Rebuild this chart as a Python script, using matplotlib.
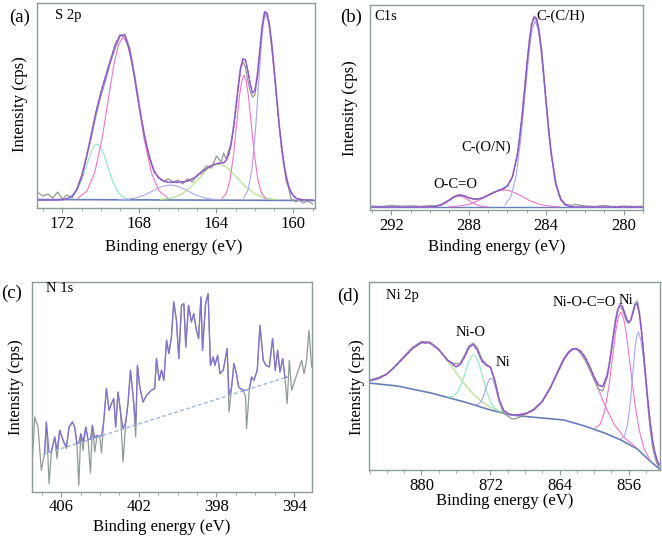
import matplotlib
matplotlib.use('Agg')
import matplotlib.pyplot as plt
from matplotlib.ticker import MultipleLocator

plt.rcParams['font.family'] = ['Liberation Serif', 'DejaVu Serif']

# ---------------- (a) S 2p ----------------
s2p_e = [173.25, 173.0, 172.75, 172.5, 172.25, 172.0, 171.75, 171.5, 171.25, 171.0,
         170.75, 170.5, 170.25, 170.0, 169.75, 169.5, 169.25, 169.0, 168.75, 168.5,
         168.25, 168.0, 167.75, 167.5, 167.25, 167.0, 166.75, 166.5, 166.25, 166.0,
         165.75, 165.5, 165.25, 165.0, 164.75, 164.5, 164.25, 164.0, 163.75,
         163.625, 163.5, 163.375, 163.25, 163.125, 163.0, 162.875, 162.75, 162.625, 162.5,
         162.375, 162.25, 162.125, 162.0, 161.875, 161.75, 161.625, 161.5, 161.375, 161.25,
         161.125, 161.0, 160.875, 160.75, 160.625, 160.5, 160.375, 160.25, 160.125, 160.0,
         159.875, 159.75, 159.5, 159.25, 159.0]
s2p_fit = [8, 8, 8, 8, 8.1, 8.3, 9.2, 11.9, 18.4, 31.1,
           50.3, 73.6, 96.4, 115.5, 132, 148, 163.5, 173, 171.9, 156.5,
           131, 101, 73.2, 51.6, 37.5, 30.1, 26.9, 25.8, 25.7, 25.8,
           26.1, 27.1, 29.1, 32.2, 35.8, 39.6, 42.8, 44.3, 45,
           45.3, 47.4, 52.7, 62.3, 77.7, 97.9, 120.2, 138.9, 149.1, 148.3,
           137.9, 124.2, 115.1, 117.4, 132.7, 156.7, 181.5, 195.9, 194.9, 183.4,
           163.6, 138.5, 111.3, 85, 62.6, 44, 30.8, 21.6, 15.6, 12,
           10, 8.9, 8.2, 8, 8]
s2p_raw = [15, 12, 14, 10, 16, 9, 13, 10, 19, 33,
           52, 70, 93, 112, 128, 146, 160, 172, 174, 160,
           133, 100, 72, 54, 36, 31, 27, 29, 26, 28,
           24, 29, 26, 33, 37, 42, 40, 52, 46,
           55, 49, 57, 64, 80, 99, 118, 140, 146, 141,
           128, 117, 111, 113, 130, 155, 180, 196, 195, 181,
           160, 136, 110, 84, 61, 45, 27, 20, 9, 8,
           6, 9, 5, 7, 4]
s2p_bg_e = [173.3, 158.9]
s2p_bg = [8.5, 7.5]
s2p_c1_e = [171.85, 171.52, 171.25, 170.97, 170.75, 170.53, 170.37, 170.2, 170.04, 169.87, 169.65, 169.43, 169.16, 168.88, 168.55]
s2p_c1 = [8.6, 11.1, 17.2, 29, 42, 54.8, 61.5, 64, 61.5, 54.8, 42, 29, 17.2, 11.1, 8.6]
s2p_c2_e = [171.19, 170.72, 170.33, 169.94, 169.63, 169.32, 169.08, 168.85, 168.62, 168.38, 168.07, 167.76, 167.37, 166.98, 166.51]
s2p_c2 = [9.8, 17.1, 34.8, 69.2, 106.9, 144.2, 163.8, 171, 163.8, 144.2, 106.9, 69.2, 34.8, 17.1, 9.8]
s2p_c3_e = [169.1, 168.56, 168.11, 167.66, 167.3, 166.94, 166.67, 166.4, 166.13, 165.86, 165.5, 165.14, 164.69, 164.24, 163.7]
s2p_c3 = [8.2, 8.8, 10.5, 13.6, 17.1, 20.5, 22.3, 23, 22.3, 20.5, 17.1, 13.6, 10.5, 8.8, 8.2]
s2p_c4_e = [166.9, 166.3, 165.8, 165.3, 164.9, 164.5, 164.2, 163.9, 163.6, 163.3, 162.9, 162.5, 162.0, 161.5, 160.9]
s2p_c4 = [8.4, 10, 13.9, 21.5, 29.8, 38.1, 42.4, 44, 42.4, 38.1, 29.8, 21.5, 13.9, 10, 8.4]
s2p_c5_e = [163.71, 163.48, 163.29, 163.1, 162.95, 162.8, 162.68, 162.57, 162.46, 162.34, 162.19, 162.04, 161.85, 161.66, 161.43]
s2p_c5 = [9.4, 15, 28.6, 54.9, 83.8, 112.4, 127.5, 133, 127.5, 112.4, 83.8, 54.9, 28.6, 15, 9.4]
s2p_c6_e = [162.58, 162.35, 162.16, 161.97, 161.82, 161.67, 161.55, 161.44, 161.28, 161.13, 160.92, 160.71, 160.45, 160.19, 159.88]
s2p_c6 = [10.1, 18.4, 38.6, 77.8, 120.8, 163.4, 185.8, 194, 185.8, 163.4, 120.8, 77.8, 38.6, 18.4, 10.1]

# ---------------- (b) C 1s ----------------
c1s_e = [293, 292.5, 292, 291.5, 291, 290.5, 290,
         289.75, 289.5, 289.25, 289, 288.75, 288.5, 288.25, 288, 287.75, 287.5,
         287.25, 287, 286.75, 286.5, 286.25, 286, 285.75, 285.5,
         285.375, 285.25, 285.125, 285, 284.875, 284.75, 284.625, 284.5, 284.375, 284.25,
         284.125, 284, 283.875, 283.75,
         283.5, 283.25, 283, 282.75, 282.5,
         282, 281.5, 281, 280.5, 280, 279.5, 279]
c1s_fit = [3, 3, 3, 3, 3, 3, 3.1,
           3.5, 4.5, 6.7, 9.9, 13.1, 14.9, 14.2, 12.3, 10.9, 10.9,
           12.4, 14.7, 17.1, 19.2, 20.9, 24, 32.7, 53.9,
           71.6, 93.3, 118.5, 144.5, 167.7, 185.6, 192.5, 191, 179.3, 160.9,
           135, 107.1, 81, 57.8,
           25.8, 10.5, 5, 3.4, 3,
           3, 3, 3, 3, 3, 3, 3]
c1s_raw = [4, 3.5, 4.5, 3.8, 4.2, 3.6, 4.4,
           4.2, 5, 7.5, 10.5, 13.5, 15.5, 14.5, 12, 11, 11.5,
           12, 15, 17.5, 19, 21.5, 24.5, 33, 54,
           72, 93, 118, 144, 168, 186, 194, 192, 180, 161,
           135, 107, 81, 58,
           26, 11, 6, 4.5, 5.5,
           4, 3.5, 4.5, 3.2, 4, 3.5, 3.8]
c1s_bg_e = [293.1, 279.0]
c1s_bg = [3, 3]
c1s_c1_e = [290.0, 289.7, 289.45, 289.2, 289.0, 288.8, 288.65, 288.5, 288.35, 288.2, 288.0, 287.8, 287.55, 287.3, 287.0]
c1s_c1 = [3.1, 3.6, 4.8, 7.1, 9.7, 12.2, 13.5, 14, 13.5, 12.2, 9.7, 7.1, 4.8, 3.6, 3.1]
c1s_c2_e = [289.02, 288.45, 287.97, 287.5, 287.12, 286.74, 286.46, 286.17, 285.89, 285.6, 285.22, 284.84, 284.37, 283.89, 283.32]
c1s_c2 = [3.2, 4.0, 5.8, 9.4, 13.3, 17.2, 19.3, 20, 19.3, 17.2, 13.3, 9.4, 5.8, 4.0, 3.2]
c1s_c3_e = [286.13, 285.82, 285.56, 285.3, 285.09, 284.88, 284.73, 284.57, 284.41, 284.26, 284.05, 283.84, 283.58, 283.32, 283.01]
c1s_c3 = [5.1, 13.4, 33.6, 72.8, 115.8, 158.4, 180.8, 189, 180.8, 158.4, 115.8, 72.8, 33.6, 13.4, 5.1]

# ---------------- (c) N 1s ----------------
n1s_e = [407.53, 407.36, 407.19, 407.02, 406.85, 406.76, 406.62, 406.50, 406.33, 406.21,
         406.07, 405.90, 405.73, 405.59, 405.42, 405.30, 405.18, 405.09, 404.99, 404.87,
         404.73, 404.61, 404.49, 404.39, 404.27, 404.15, 404.01, 403.92, 403.80, 403.67,
         403.53, 403.41, 403.29, 403.19, 403.07, 402.95, 402.81, 402.67, 402.55, 402.43,
         402.29, 402.16, 402.07, 401.95, 401.78, 401.60, 401.35, 401.18, 401.09, 400.95,
         400.83, 400.71, 400.57, 400.45, 400.32, 400.20, 400.06, 399.94, 399.80, 399.68,
         399.58, 399.44, 399.29, 399.17, 399.03, 398.92, 398.80, 398.72, 398.56, 398.43,
         398.31, 398.17, 398.08, 397.94, 397.82, 397.65, 397.45, 397.35, 397.22, 397.10,
         396.97, 396.86, 396.76, 396.62, 396.50, 396.45, 396.31, 396.19, 396.07, 395.90,
         395.76, 395.59, 395.45, 395.28, 395.11, 394.97, 394.85, 394.73, 394.59, 394.47,
         394.36, 394.25, 394.13, 393.96, 393.79, 393.61, 393.49, 393.36, 393.24, 393.10]
n1s_raw = [15.0, 75.0, 65.0, 21.7, 38.4, 70.0, 8.4, 40.0, 55.0, 33.4,
           61.7, 51.7, 43.4, 65.0, 70.0, 65.0, 45.0, 6.7, 58.4, 41.7,
           65.0, 51.7, 19.0, 66.7, 40.0, 56.7, 55.0, 39.0, 71.7, 103.4,
           81.7, 88.4, 93.4, 65.0, 100.0, 81.7, 30.0, 70.0, 90.0, 121.7,
           95.0, 55.0, 126.7, 105.0, 90.0, 96.7, 101.7, 103.4, 133.4, 111.7,
           121.7, 111.7, 151.7, 138.4, 155.0, 190.0, 171.7, 133.4, 186.7, 188.4,
           145.0, 186.7, 170.0, 178.4, 161.7, 153.4, 195.0, 141.7, 188.4, 198.4,
           126.7, 135.0, 126.7, 136.7, 118.4, 121.7, 143.4, 80.0, 105.0, 128.4,
           118.4, 105.0, 103.4, 101.7, 95.0, 63.4, 101.7, 115.0, 111.7, 121.7,
           166.7, 131.7, 126.7, 125.0, 153.4, 121.7, 141.7, 120.0, 133.4, 113.4,
           88.4, 131.7, 101.7, 111.7, 121.7, 131.7, 118.4, 131.7, 161.7, 125.0]
# fitted envelope, starts at the 5th energy point
n1s_fit = [38.4, 70.0, 39.6, 40.3, 55.0, 42.1, 61.7, 51.7, 45.1, 65.0,
           70.0, 65.0, 48.5, 49.0, 58.4, 50.4, 65.0, 52.0, 52.7, 66.7,
           54.1, 56.7, 55.7, 56.2, 71.7, 103.4, 81.7, 88.4, 93.4, 65.0,
           100.0, 81.7, 63.0, 70.0, 90.0, 121.7, 95.0, 67.0, 126.7, 105.0,
           90.0, 96.7, 101.7, 103.4, 133.4, 111.7, 121.7, 111.7, 151.7, 138.4,
           155.0, 190.0, 171.7, 133.4, 186.7, 188.4, 145.0, 186.7, 170.0, 178.4,
           161.7, 153.4, 195.0, 141.7, 188.4, 198.4, 126.7, 135.0, 126.7, 136.7,
           118.4, 121.7, 143.4, 96.6, 105.0, 128.4, 118.4, 105.0, 103.4, 101.7,
           101.8, 102.1, 103.0, 115.0, 111.7, 121.7, 166.7, 131.7, 126.7, 125.0,
           153.4, 121.7, 141.7, 120.0, 133.4, 114.3, 115.0]
n1s_bg_e = [406.93, 394.36]
n1s_bg = [37.7, 115.0]

# ---------------- (d) Ni 2p ----------------
ni_e = [886, 885, 884, 883, 882, 881, 880, 879, 878, 877, 876,
        875.5, 875, 874.5, 874, 873.5, 873, 872.5, 872, 871.5, 871, 870.5, 870, 869.5, 869, 868.5, 868,
        867, 866, 865, 864,
        863.5, 863, 862.5, 862, 861.5, 861, 860.5, 860, 859.5, 859, 858.5,
        858.25, 858, 857.75, 857.5, 857.25, 857, 856.75, 856.5, 856.25, 856, 855.75, 855.5,
        855.25, 855, 854.75, 854.5, 854.25, 854, 853.75, 853.5, 853.25, 853, 852.75, 852.5]
ni_fit = [89.2, 91.4, 95.9, 103.8, 112.9, 121.8, 127.3, 127, 120.5, 110.3, 103.1,
          105.5, 113.3, 122.4, 125.7, 119.4, 109, 104.9, 102.5, 89.1, 70.6, 60, 56.4, 55.1, 55.2, 55.4, 56.1,
          59.9, 68.5, 83.3, 101.8,
          110.7, 117.1, 120.8, 121.3, 118.3, 112, 103.1, 93.1, 84.8, 83.6, 94.5,
          105.7, 119.7, 135.1, 149.5, 160.2, 165.3, 163.9, 158.1, 151.6, 147.8, 149.7, 157.5,
          165.1, 166.5, 155.7, 137.7, 115.1, 90.9, 67.5, 47, 30.9, 18.8, 10.8, 5.4]
ni_raw = [90, 92.5, 96, 104.5, 114, 123, 128.5, 128, 121, 109, 106,
          107, 115, 124, 127, 122, 111, 106, 103, 90, 69, 57, 54, 51, 51.5, 53, 56,
          61, 69, 84, 103,
          112, 118, 121.5, 120.5, 116, 109, 100, 90, 81, 79, 92,
          104, 121, 137, 152, 161, 163, 161, 155, 149, 146.5, 150, 159,
          167, 169, 158, 138, 114, 88, 62, 40, 24, 14, 7, 3]
ni_bg_e = [886.1, 882.8, 878.9, 875.0, 872.0, 869.6, 867.3, 863.5, 861.1, 858.8, 856.9, 855.0, 853.4, 852.4]
ni_bg = [87, 84, 77, 68, 60, 55, 53, 50, 44, 37, 30, 21, 8, 1]
ni_c1_e = [886, 885, 884, 883, 882, 881, 880, 879.3, 878.5, 877.5, 876.5, 875.5, 874.5, 873.5, 872.5, 871.5, 870.5, 869.5]
ni_c1 = [89.2, 91.4, 95.9, 103.8, 112.9, 121.8, 127.3, 127.7, 124, 115.5, 103.8, 91.6, 80.6, 71.8, 65.1, 60.7, 57.6, 55.1]
ni_c2_e = [876.9, 876.3, 875.8, 875.3, 874.9, 874.5, 874.2, 873.9, 873.6, 873.3, 872.9, 872.5, 872.0, 871.5, 870.9]
ni_c2 = [73, 73.8, 78, 87.5, 98, 108.5, 113.6, 115, 112.1, 105.3, 92.7, 80.1, 68.2, 61.8, 58.3]
ni_c3_e = [873.81, 873.43, 873.12, 872.8, 872.55, 872.3, 872.11, 871.92, 871.73, 871.54, 871.29, 871.04, 870.72, 870.41, 870.03]
ni_c3 = [65.2, 65.6, 68.3, 74.1, 80.9, 87.7, 91, 91.8, 90.1, 85.8, 77.9, 69.9, 62.6, 58.4, 56.2]
ni_c4_e = [868.9, 867.52, 866.37, 865.22, 864.3, 863.38, 862.69, 862.0, 861.31, 860.62, 859.7, 858.78, 857.63, 856.48, 855.1]
ni_c4 = [55.2, 57.4, 64.6, 79.5, 96.1, 112.3, 119.7, 121.3, 116, 105.2, 85.2, 65, 45, 32.2, 22.4]
ni_c5_e = [859.89, 859.29, 858.79, 858.29, 857.89, 857.49, 857.19, 856.89, 856.56, 856.23, 855.79, 855.35, 854.8, 854.25, 853.59]
ni_c5 = [41.8, 45.7, 58.4, 83.2, 111.4, 139.1, 153.6, 158, 150.8, 133.7, 102.3, 70.7, 40.5, 22.1, 10.9]
ni_c6_e = [856.85, 856.45, 856.12, 855.79, 855.53, 855.27, 855.07, 854.87, 854.6, 854.33, 853.97, 853.61, 853.16, 852.71, 852.17]
ni_c6 = [31.1, 34.5, 45.8, 69, 95.2, 120.9, 134.2, 138, 130.6, 114.2, 84.2, 54, 25.6, 9.6, 1.3]

# colours
GRAY = '#8f9a94'
PURPLE = '#7c5ac6'
PINKDOT = '#ef80e0'
MINT = '#90e8c6'
PINK = '#f274c8'
LAV = '#a7a7ee'
YGREEN = '#abe282'
BGC = '#6680bc'
SPINE = '#8d9b9b'

W, H = 662, 541
fig = plt.figure(figsize=(6.62, 5.41), dpi=100)


def box(l, t, r, b):
    return [l / W, 1 - b / H, (r - l) / W, (b - t) / H]


def style(ax, xlim, ylim, major, minor):
    ax.set_xlim(*xlim)
    ax.set_ylim(*ylim)
    ax.set_xticks(major)
    ax.xaxis.set_minor_locator(MultipleLocator(minor))
    ax.set_yticks([])
    ax.tick_params(axis='x', which='both', direction='out', color=SPINE, labelsize=12)
    ax.tick_params(axis='x', which='major', length=3.5, pad=2.5)
    ax.tick_params(axis='x', which='minor', length=2.5)
    for s in ax.spines.values():
        s.set_color(SPINE)
        s.set_linewidth(1.0)


def txt(x, y, s, size=10.5, ha='left', rot=0):
    fig.text(x / W, 1 - y / H, s, fontsize=size, ha=ha, va='center', rotation=rot)


# (a)
ax = fig.add_axes(box(37, 3, 315, 208))
ax.plot(s2p_bg_e, s2p_bg, color=BGC, lw=1.2)
ax.plot(s2p_c1_e, s2p_c1, color=MINT, lw=0.8)
ax.plot(s2p_c2_e, s2p_c2, color=PINK, lw=0.8)
ax.plot(s2p_c3_e, s2p_c3, color=LAV, lw=0.8)
ax.plot(s2p_c4_e, s2p_c4, color=YGREEN, lw=0.8)
ax.plot(s2p_c5_e, s2p_c5, color=PINK, lw=0.8)
ax.plot(s2p_c6_e, s2p_c6, color=LAV, lw=0.8)
ax.plot(s2p_e, s2p_raw, color=GRAY, lw=0.9)
ax.plot(s2p_e, s2p_fit, color=PINKDOT, lw=1.4, ls=(0, (1.5, 1.2)))
ax.plot(s2p_e, s2p_fit, color=PURPLE, lw=0.9)
style(ax, (173.32, 158.88), (0, 205), [172, 168, 164, 160], 1)

# (b)
ax = fig.add_axes(box(370, 5, 643, 210))
ax.plot(c1s_bg_e, c1s_bg, color=BGC, lw=1.0)
ax.plot(c1s_c1_e, c1s_c1, color=PINK, lw=0.8)
ax.plot(c1s_c2_e, c1s_c2, color=PINK, lw=0.8)
ax.plot(c1s_c3_e, c1s_c3, color=LAV, lw=0.8)
ax.plot(c1s_e, c1s_raw, color=GRAY, lw=0.9)
ax.plot(c1s_e, c1s_fit, color=PINKDOT, lw=1.4, ls=(0, (1.5, 1.2)))
ax.plot(c1s_e, c1s_fit, color=PURPLE, lw=0.9)
style(ax, (293.1, 279.0), (0, 205), [292, 288, 284, 280], 1)

# (c)
ax = fig.add_axes(box(32, 282, 312, 492))
ax.plot(n1s_e, n1s_raw, color=GRAY, lw=0.9)
ax.plot(n1s_e[4:4 + len(n1s_fit)], n1s_fit, color='#8470d2', lw=0.9)
ax.plot(n1s_bg_e, n1s_bg, color='#8fb0dc', lw=0.9, ls=(0, (3, 2)))
style(ax, (407.5, 393.08), (0, 210), [406, 402, 398, 394], 1)
ax.tick_params(axis='x', which='major', pad=1.5)

# (d)
ax = fig.add_axes(box(369, 282, 660, 470))
ax.plot(ni_bg_e, ni_bg, color=BGC, lw=1.2)
ax.plot(ni_c1_e, ni_c1, color=YGREEN, lw=0.8)
ax.plot(ni_c2_e, ni_c2, color=MINT, lw=0.8)
ax.plot(ni_c3_e, ni_c3, color=LAV, lw=0.8)
ax.plot(ni_c4_e, ni_c4, color=PINK, lw=0.8)
ax.plot(ni_c5_e, ni_c5, color=PINK, lw=0.8)
ax.plot(ni_c6_e, ni_c6, color=LAV, lw=0.8)
ax.plot(ni_e, ni_raw, color=GRAY, lw=0.9)
ax.plot(ni_e, ni_fit, color=PINKDOT, lw=1.4, ls=(0, (1.5, 1.2)))
ax.plot(ni_e, ni_fit, color=PURPLE, lw=0.9)
style(ax, (886.07, 852.37), (0, 188), [880, 872, 864, 856], 2)

# panel letters
txt(20, 17, '(a)', 13.5, 'center')
txt(351, 17, '(b)', 13.5, 'center')
txt(12, 293, '(c)', 13.5, 'center')
txt(348, 296, '(d)', 13.5, 'center')

# axis titles
for x, y in [(174, 247), (497, 247), (162, 527), (505, 501)]:
    txt(x, y, 'Binding energy (eV)', 12, 'center')
for x, y in [(20, 104), (350, 108), (16, 387), (357, 387)]:
    txt(x, y, 'Intensity (cps)', 12, 'center', 90)

# annotations
txt(55, 16, 'S 2p')
txt(374, 16, 'C1s')
txt(536, 16, 'C-(C/H)')
txt(461, 147, 'C-(O/N)')
txt(433, 184, 'O-C=O')
txt(46, 289, 'N 1s')
txt(386, 295, 'Ni 2p')
txt(456, 333, 'Ni-O')
txt(496, 363, 'Ni')
txt(553, 302, 'Ni-O-C=O')
txt(619, 301, 'Ni')

fig.savefig('out.png', dpi=100)
